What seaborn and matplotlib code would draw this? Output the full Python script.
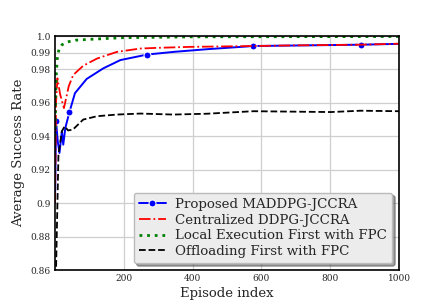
import numpy as np
import pandas as pd
import seaborn as sns
import matplotlib
matplotlib.use("Agg")
import matplotlib.pyplot as plt

# ---- data ----
blue_ep = [0, 3, 8, 13, 20, 24, 30, 42, 58, 92, 140, 190, 268, 345, 442, 577, 889, 1000]
blue_val = [0.90, 0.949, 0.937, 0.930, 0.943, 0.935, 0.945, 0.9545, 0.9658, 0.9743, 0.9806,
            0.9856, 0.9889, 0.9905, 0.9921, 0.9940, 0.9948, 0.9953]
blue_marks = [3, 42, 268, 577, 889]

red_ep = [0, 3, 7, 15, 26, 40, 53, 82, 122, 180, 248, 296, 394, 539, 700, 889, 1000]
red_val = [0.90, 0.960, 0.9747, 0.965, 0.9569, 0.970, 0.9767, 0.9822, 0.9865, 0.9905, 0.9925,
           0.9929, 0.9935, 0.9939, 0.9944, 0.9948, 0.9954]

green_ep = [0, 2, 4, 7, 12, 20, 35, 60, 100, 200, 400, 700, 1000]
green_val = [0.94, 0.965, 0.978, 0.9875, 0.9925, 0.9947, 0.9964, 0.9975, 0.998, 0.999,
             0.9995, 0.9996, 0.9997]

black_ep = [0, 3, 10, 20, 28, 38, 52, 82, 122, 180, 248, 344, 442, 577, 802, 889, 1000]
black_val = [0.82, 0.86, 0.929, 0.943, 0.946, 0.9435, 0.944, 0.950, 0.952, 0.953, 0.9536,
             0.953, 0.9535, 0.955, 0.9545, 0.9553, 0.955]

labels = ["Proposed MADDPG-JCCRA", "Centralized DDPG-JCCRA",
          "Local Execution First with FPC", "Offloading First with FPC"]

yticks = [0.86, 0.88, 0.9, 0.92, 0.94, 0.96, 0.98, 0.99, 1.0]
yticklabels = ["0.86", "0.88", "0.9", "0.92", "0.94", "0.96", "0.98", "0.99", "1.0"]
xticks = [200, 400, 600, 800, 1000]

# ---- plot ----
sns.set_style("whitegrid", {"axes.edgecolor": "black", "grid.color": "#cfcfcf"})
plt.rcParams["font.family"] = ["DejaVu Serif"]

fig = plt.figure(figsize=(4.43, 3.04), dpi=100)
ax = fig.add_axes([55 / 443, 1 - 270 / 304, (399 - 55) / 443, (270 - 36) / 304])

df_b = pd.DataFrame({"ep": blue_ep, "val": blue_val})
df_r = pd.DataFrame({"ep": red_ep, "val": red_val})
df_g = pd.DataFrame({"ep": green_ep, "val": green_val})
df_k = pd.DataFrame({"ep": black_ep, "val": black_val})

sns.lineplot(data=df_b, x="ep", y="val", ax=ax, color="blue", lw=1.4, label=labels[0],
             marker="o", markersize=5, markevery=[blue_ep.index(e) for e in blue_marks])
sns.lineplot(data=df_r, x="ep", y="val", ax=ax, color="red", lw=1.3, ls="-.", label=labels[1])
sns.lineplot(data=df_g, x="ep", y="val", ax=ax, color="green", lw=2.0, ls=(0, (1, 1.75)),
             label=labels[2])
sns.lineplot(data=df_k, x="ep", y="val", ax=ax, color="black", lw=1.3, ls="--", label=labels[3])

ax.set_xlim(0, 1000)
ax.set_ylim(0.86, 1.0)
ax.set_xticks(xticks)
ax.set_xticklabels([str(t) for t in xticks], fontsize=6.5)
ax.set_yticks(yticks)
ax.set_yticklabels(yticklabels, fontsize=6.5)
ax.tick_params(axis="both", length=0, pad=3)
ax.set_xlabel("Episode index", fontsize=9.5, labelpad=3)
ax.set_ylabel("Average Success Rate", fontsize=9.5, labelpad=4)
for s in ax.spines.values():
    s.set_color("black")
    s.set_linewidth(1.2)
ax.grid(True, color="#cfcfcf", lw=0.9)

leg = ax.legend(loc="lower right", fontsize=9.6, frameon=True, fancybox=True, shadow=True,
                handlelength=2.0, borderaxespad=0.5, labelspacing=0.2, borderpad=0.4,
                handletextpad=0.7)
leg.get_frame().set_facecolor("#ececec")
leg.get_frame().set_edgecolor("#bbbbbb")

fig.savefig("out.png", dpi=100)
